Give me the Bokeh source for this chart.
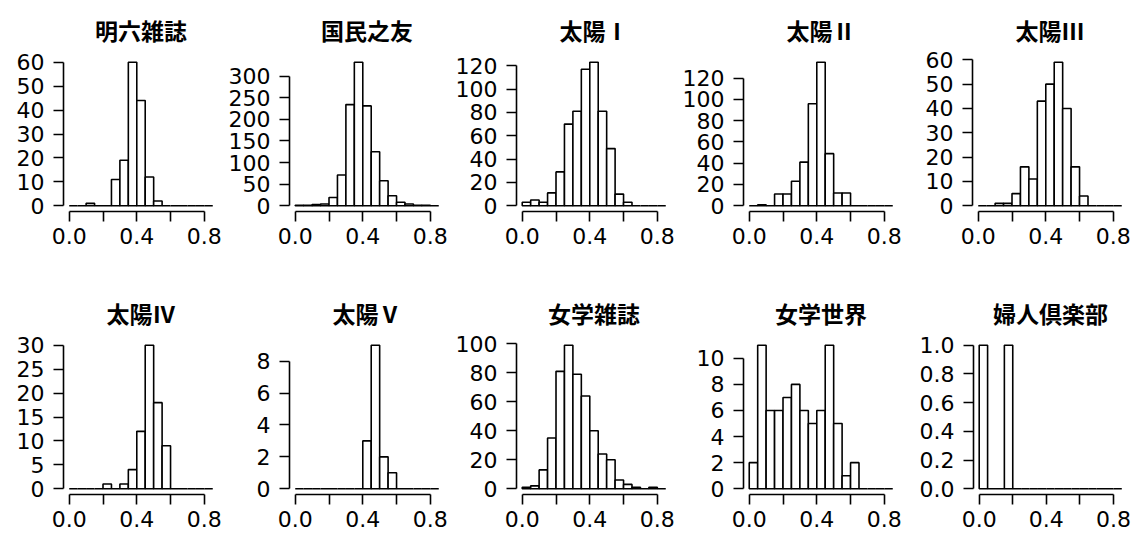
from bokeh.plotting import figure
from bokeh.layouts import column, row
from bokeh.models import Range1d, FixedTicker, PrintfTickFormatter
from bokeh.embed import file_html
from bokeh.resources import INLINE

# ---- data -------------------------------------------------------------
bin_edges = [0.00, 0.05, 0.10, 0.15, 0.20, 0.25, 0.30, 0.35, 0.40,
             0.45, 0.50, 0.55, 0.60, 0.65, 0.70, 0.75, 0.80, 0.85]

titles = ["明六雑誌", "国民之友", "太陽Ⅰ", "太陽Ⅱ", "太陽Ⅲ",
          "太陽Ⅳ", "太陽Ⅴ", "女学雑誌", "女学世界", "婦人倶楽部"]

counts_meiroku = [0, 0, 1, 0, 0, 11, 19, 60, 44, 12, 2, 0, 0, 0, 0, 0, 0]
counts_kokumin = [1, 1, 3, 4, 19, 71, 234, 332, 231, 125, 58, 23, 8, 4, 1, 1, 0]
counts_taiyo1 = [3, 5, 3, 11, 29, 70, 81, 117, 123, 81, 49, 10, 3, 0, 0, 0, 0]
counts_taiyo2 = [0, 1, 0, 11, 11, 23, 41, 96, 135, 49, 12, 12, 0, 0, 0, 0, 0]
counts_taiyo3 = [0, 0, 1, 1, 5, 16, 11, 43, 50, 59, 40, 16, 4, 0, 0, 0, 0]
counts_taiyo4 = [0, 0, 0, 0, 1, 0, 1, 4, 12, 30, 18, 9, 0, 0, 0, 0, 0]
counts_taiyo5 = [0, 0, 0, 0, 0, 0, 0, 0, 3, 9, 2, 1, 0, 0, 0, 0, 0]
counts_jogaku_zasshi = [1, 2, 13, 35, 81, 99, 79, 64, 40, 24, 20, 6, 3, 1, 0, 1, 0]
counts_jogaku_sekai = [2, 11, 6, 6, 7, 8, 6, 5, 6, 11, 5, 1, 2, 0, 0, 0, 0]
counts_fujin = [1, 0, 0, 1, 0, 0, 0, 0, 0, 0, 0, 0, 0, 0, 0, 0, 0]

y_ticks_meiroku = [0, 10, 20, 30, 40, 50, 60]
y_ticks_kokumin = [0, 50, 100, 150, 200, 250, 300]
y_ticks_taiyo1 = [0, 20, 40, 60, 80, 100, 120]
y_ticks_taiyo2 = [0, 20, 40, 60, 80, 100, 120]
y_ticks_taiyo3 = [0, 10, 20, 30, 40, 50, 60]
y_ticks_taiyo4 = [0, 5, 10, 15, 20, 25, 30]
y_ticks_taiyo5 = [0, 2, 4, 6, 8]
y_ticks_jogaku_zasshi = [0, 20, 40, 60, 80, 100]
y_ticks_jogaku_sekai = [0, 2, 4, 6, 8, 10]
y_ticks_fujin = [0.0, 0.2, 0.4, 0.6, 0.8, 1.0]
y_formats = ["%d"] * 9 + ["%.1f"]

x_major_ticks = [0.0, 0.4, 0.8]
x_minor_ticks = [0.2, 0.6]

all_counts = [counts_meiroku, counts_kokumin, counts_taiyo1, counts_taiyo2,
              counts_taiyo3, counts_taiyo4, counts_taiyo5,
              counts_jogaku_zasshi, counts_jogaku_sekai, counts_fujin]
all_yticks = [y_ticks_meiroku, y_ticks_kokumin, y_ticks_taiyo1, y_ticks_taiyo2,
              y_ticks_taiyo3, y_ticks_taiyo4, y_ticks_taiyo5,
              y_ticks_jogaku_zasshi, y_ticks_jogaku_sekai, y_ticks_fujin]

# ---- layout -----------------------------------------------------------
FRAME = 155
LEFT = [63, 64, 64, 64, 56]
RIGHT = [7, 8, 8, 18, 5]
ROW_H = [284, 251]
TOP = [56, 55]
BOTTOM = [ROW_H[0] - TOP[0] - FRAME, ROW_H[1] - TOP[1] - FRAME]

TICK_FONT = "DejaVu Sans"
TITLE_FONT = "Noto Sans CJK JP"
LW = 1.6


def make_panel(i):
    r, c = divmod(i, 5)
    counts = all_counts[i]
    yt = all_yticks[i]
    lo, hi = bin_edges[0], bin_edges[-1]
    pad = 0.04 * (hi - lo)
    ymax = max(counts)
    p = figure(width=LEFT[c] + FRAME + RIGHT[c], height=ROW_H[r],
               output_backend="svg", toolbar_location=None,
               x_range=Range1d(lo - pad, hi + pad),
               y_range=Range1d(-0.04 * ymax, 1.04 * ymax),
               min_border_left=LEFT[c], min_border_right=RIGHT[c],
               min_border_top=TOP[r], min_border_bottom=BOTTOM[r])
    p.outline_line_color = None
    p.xgrid.visible = False
    p.ygrid.visible = False
    p.background_fill_color = "white"
    p.border_fill_color = "white"

    p.quad(left=bin_edges[:-1], right=bin_edges[1:], bottom=0, top=counts,
           fill_color="white", line_color="black", line_width=LW)

    # title
    p.title.text = titles[i]
    p.title.align = "center"
    p.title.text_font = TITLE_FONT
    p.title.text_font_style = "bold"
    p.title.text_font_size = "23px"
    p.title.text_color = "black"
    p.title.standoff = 19

    # x axis
    xa = p.xaxis[0]
    xa.ticker = FixedTicker(ticks=x_major_ticks, minor_ticks=x_minor_ticks)
    xa.formatter = PrintfTickFormatter(format="%.1f")
    xa.bounds = (x_major_ticks[0], x_major_ticks[-1])
    xa.axis_line_color = "black"
    xa.axis_line_width = LW
    xa.major_tick_line_color = "black"
    xa.major_tick_line_width = LW
    xa.minor_tick_line_color = "black"
    xa.minor_tick_line_width = LW
    xa.major_tick_in = 0
    xa.major_tick_out = 10
    xa.minor_tick_in = 0
    xa.minor_tick_out = 10
    xa.major_label_standoff = 6
    xa.major_label_text_font = TICK_FONT
    xa.major_label_text_font_size = "22px"
    xa.major_label_text_color = "black"

    # y axis
    ya = p.yaxis[0]
    ya.ticker = FixedTicker(ticks=yt, minor_ticks=[])
    ya.formatter = PrintfTickFormatter(format=y_formats[i])
    ya.bounds = (yt[0], yt[-1])
    ya.axis_line_color = "black"
    ya.axis_line_width = LW
    ya.major_tick_line_color = "black"
    ya.major_tick_line_width = LW
    ya.major_tick_in = 0
    ya.major_tick_out = 10
    ya.minor_tick_line_color = None
    ya.major_label_standoff = 9
    ya.major_label_text_font = TICK_FONT
    ya.major_label_text_font_size = "22px"
    ya.major_label_text_color = "black"
    ya.major_label_orientation = "horizontal"
    return p


panels = [make_panel(i) for i in range(10)]
layout = column(row(*panels[:5], spacing=0), row(*panels[5:], spacing=0), spacing=0)

with open("out.html", "w") as f:
    f.write(file_html(layout, INLINE))
